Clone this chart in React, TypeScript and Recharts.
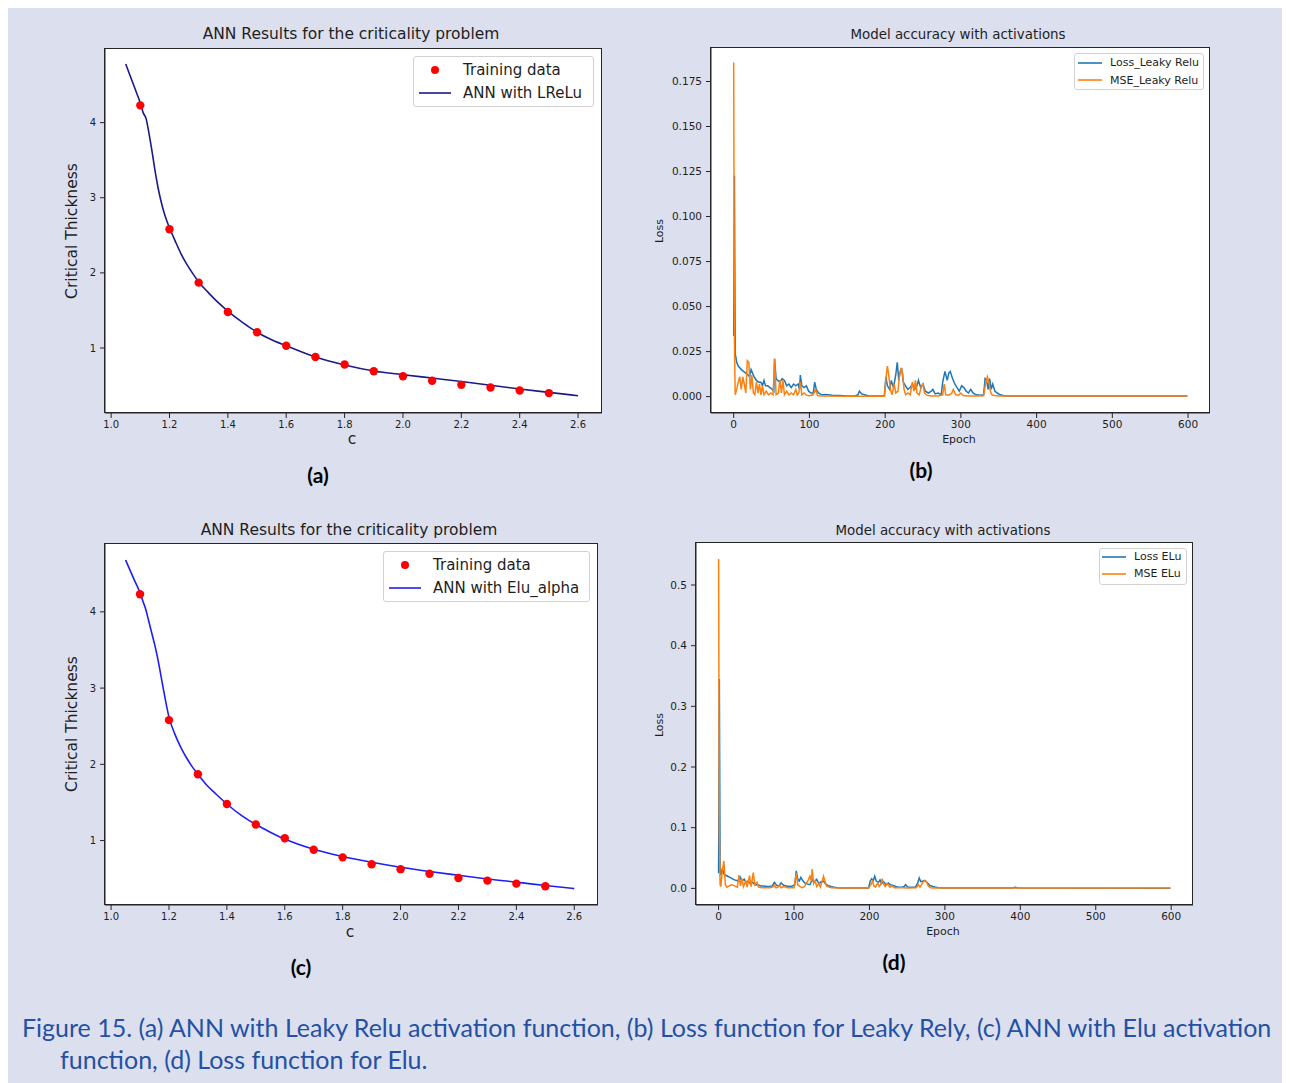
import React from 'react';
import { ComposedChart, LineChart, Line, Scatter, XAxis, YAxis, Legend } from 'recharts';

// ---------- data ----------
const trainingC = [1.1, 1.2, 1.3, 1.4, 1.5, 1.6, 1.7, 1.8, 1.9, 2.0, 2.1, 2.2, 2.3, 2.4, 2.5];
const trainingThickness = [4.23, 2.58, 1.87, 1.48, 1.21, 1.03, 0.88, 0.78, 0.69, 0.625, 0.565, 0.51, 0.475, 0.435, 0.40];

const curveC = [1.05, 1.08, 1.10, 1.11, 1.12, 1.13, 1.14, 1.15, 1.16, 1.17, 1.18, 1.19, 1.20, 1.22, 1.24, 1.26, 1.28, 1.30, 1.33, 1.36, 1.40, 1.45, 1.50, 1.55, 1.60, 1.70, 1.80, 1.90, 2.00, 2.10, 2.20, 2.30, 2.40, 2.50, 2.60];
const curveLReLu = [4.78, 4.47, 4.26, 4.13, 4.05, 3.85, 3.62, 3.37, 3.15, 2.97, 2.82, 2.70, 2.60, 2.42, 2.25, 2.11, 1.99, 1.88, 1.75, 1.63, 1.49, 1.34, 1.21, 1.11, 1.03, 0.88, 0.775, 0.695, 0.645, 0.60, 0.555, 0.505, 0.455, 0.41, 0.365];
const curveElu = [4.68, 4.42, 4.25, 4.14, 4.03, 3.88, 3.73, 3.58, 3.41, 3.21, 3.00, 2.80, 2.62, 2.40, 2.23, 2.09, 1.97, 1.87, 1.73, 1.62, 1.48, 1.33, 1.21, 1.11, 1.02, 0.885, 0.79, 0.715, 0.65, 0.595, 0.545, 0.495, 0.455, 0.41, 0.37];

const lossLeaky: [number, number][] = [[0,0.0337],[1,0.1226],[2,0.024],[4,0.019],[6,0.017],[8,0.016],[10,0.015],[13,0.014],[16,0.013],[19,0.012],[21,0.011],[23,0.015],[25,0.013],[27,0.011],[30,0.009],[33,0.008],[36,0.008],[38,0.006],[40,0.009],[42,0.006],[45,0.006],[48,0.005],[51,0.004],[53,0.003],[54,0.021],[56,0.01],[58,0.009],[61,0.008],[64,0.01],[67,0.009],[70,0.006],[73,0.007],[76,0.005],[79,0.007],[82,0.006],[85,0.007],[87,0.004],[88,0.012],[90,0.006],[93,0.005],[96,0.006],[99,0.003],[102,0.002],[105,0.002],[107,0.008],[109,0.004],[112,0.002],[116,0.001],[122,0.0012],[130,0.0008],[140,0.0006],[150,0.0004],[160,0.0004],[164,0.001],[166,0.003],[169,0.0015],[173,0.001],[178,0.0004],[190,0.0003],[199,0.0004],[201,0.011],[203,0.006],[206,0.004],[208,0.009],[211,0.005],[214,0.012],[216,0.019],[218,0.009],[220,0.014],[222,0.015],[224,0.008],[227,0.006],[230,0.004],[233,0.005],[236,0.007],[239,0.004],[242,0.006],[244,0.009],[247,0.005],[250,0.007],[253,0.003],[257,0.002],[261,0.003],[263,0.004],[266,0.0015],[270,0.002],[274,0.001],[276,0.008],[279,0.014],[282,0.009],[284,0.013],[286,0.014],[289,0.010],[292,0.007],[295,0.005],[298,0.003],[301,0.006],[304,0.005],[307,0.003],[310,0.002],[313,0.004],[316,0.002],[320,0.001],[326,0.0008],[330,0.001],[332,0.010],[334,0.009],[336,0.004],[338,0.010],[340,0.004],[342,0.007],[345,0.003],[348,0.002],[352,0.001],[358,0.0004],[365,0.0003],[599,0.0003]];
const mseLeaky: [number, number][] = [[0,0.1856],[1,0.03],[2,0.001],[4,0.004],[6,0.008],[8,0.011],[10,0.004],[12,0.011],[14,0.007],[16,0.002],[18,0.020],[20,0.019],[22,0.004],[24,0.012],[26,0.002],[28,0.001],[30,0.008],[32,0.002],[34,0.007],[36,0.001],[38,0.006],[40,0.001],[43,0.003],[46,0.001],[49,0.002],[52,0.001],[54,0.021],[56,0.001],[59,0.002],[61,0.009],[63,0.002],[65,0.009],[67,0.001],[70,0.003],[73,0.001],[76,0.002],[79,0.001],[82,0.004],[84,0.001],[86,0.002],[88,0.008],[90,0.001],[93,0.002],[96,0.0008],[100,0.0005],[105,0.001],[108,0.004],[111,0.0005],[120,0.0003],[150,0.0002],[199,0.0002],[201,0.01],[203,0.017],[205,0.011],[207,0.004],[209,0.001],[212,0.007],[214,0.002],[217,0.003],[219,0.012],[221,0.016],[223,0.013],[225,0.004],[227,0.001],[230,0.002],[233,0.001],[236,0.008],[238,0.003],[240,0.009],[242,0.002],[245,0.001],[248,0.006],[250,0.007],[252,0.002],[255,0.0008],[260,0.0004],[270,0.0004],[276,0.001],[278,0.007],[280,0.001],[284,0.0008],[288,0.002],[290,0.004],[293,0.001],[297,0.0008],[300,0.002],[303,0.0006],[310,0.0004],[320,0.0004],[330,0.0005],[333,0.008],[335,0.011],[337,0.008],[339,0.003],[341,0.001],[344,0.0006],[350,0.0003],[599,0.0003]];
const lossElu: [number, number][] = [[0,0.025],[1,0.345],[2,0.03],[3,0.022],[5,0.033],[7,0.024],[9,0.022],[12,0.02],[15,0.018],[18,0.016],[21,0.014],[24,0.013],[27,0.012],[29,0.018],[31,0.012],[34,0.015],[36,0.01],[39,0.012],[42,0.008],[45,0.01],[48,0.006],[52,0.006],[56,0.004],[60,0.004],[64,0.003],[68,0.003],[71,0.004],[74,0.01],[77,0.005],[80,0.004],[83,0.009],[86,0.005],[90,0.004],[94,0.003],[98,0.004],[101,0.006],[103,0.029],[105,0.015],[107,0.012],[109,0.018],[112,0.012],[115,0.008],[118,0.007],[121,0.006],[124,0.014],[127,0.01],[130,0.015],[133,0.008],[136,0.011],[139,0.012],[142,0.007],[145,0.005],[149,0.003],[153,0.002],[158,0.0012],[165,0.0008],[175,0.0006],[190,0.0005],[199,0.0006],[201,0.012],[203,0.016],[205,0.013],[207,0.02],[209,0.012],[212,0.01],[214,0.014],[216,0.008],[219,0.011],[222,0.006],[225,0.009],[228,0.006],[231,0.005],[235,0.003],[239,0.002],[243,0.002],[246,0.003],[248,0.006],[251,0.002],[256,0.002],[261,0.002],[264,0.009],[266,0.017],[268,0.011],[271,0.012],[274,0.013],[277,0.009],[280,0.005],[284,0.003],[288,0.002],[292,0.001],[298,0.0006],[310,0.0005],[390,0.0006],[393,0.0018],[396,0.001],[400,0.0006],[599,0.0004]];
const mseElu: [number, number][] = [[0,0.543],[1,0.09],[2,0.006],[3,0.003],[5,0.03],[7,0.045],[9,0.006],[11,0.002],[14,0.004],[17,0.006],[20,0.005],[23,0.003],[25,0.002],[27,0.022],[29,0.004],[31,0.016],[33,0.003],[36,0.012],[38,0.002],[41,0.021],[43,0.003],[46,0.026],[48,0.006],[51,0.01],[53,0.002],[57,0.001],[62,0.001],[68,0.001],[72,0.002],[74,0.005],[76,0.001],[79,0.002],[81,0.006],[83,0.001],[87,0.003],[91,0.001],[96,0.001],[100,0.001],[103,0.025],[105,0.006],[108,0.003],[111,0.001],[114,0.003],[116,0.008],[119,0.014],[121,0.02],[123,0.012],[124,0.032],[126,0.008],[128,0.013],[130,0.003],[133,0.008],[135,0.002],[137,0.01],[139,0.02],[141,0.012],[143,0.004],[146,0.002],[150,0.001],[160,0.0005],[199,0.0005],[202,0.006],[204,0.012],[206,0.004],[208,0.002],[211,0.009],[213,0.003],[215,0.006],[217,0.016],[219,0.006],[221,0.003],[224,0.008],[227,0.002],[230,0.004],[233,0.001],[237,0.001],[245,0.001],[250,0.0008],[262,0.001],[265,0.006],[267,0.002],[270,0.008],[273,0.013],[276,0.01],[278,0.004],[281,0.001],[286,0.0008],[300,0.0005],[398,0.0006],[401,0.0012],[404,0.0006],[599,0.0005]];

const cTicks = [1.0, 1.2, 1.4, 1.6, 1.8, 2.0, 2.2, 2.4, 2.6];
const thicknessTicks = [1, 2, 3, 4];
const epochTicks = [0, 100, 200, 300, 400, 500, 600];
const leakyLossTicks = [0, 0.025, 0.05, 0.075, 0.1, 0.125, 0.15, 0.175];
const eluLossTicks = [0, 0.1, 0.2, 0.3, 0.4, 0.5];

// ---------- derived tables ----------
const trainingData = trainingC.map((x, i) => ({ x, y: trainingThickness[i] }));
const lreluData = curveC.map((x, i) => ({ x, y: curveLReLu[i] }));
const eluData = curveC.map((x, i) => ({ x, y: curveElu[i] }));
const toRows = (p: [number, number][]) => p.map(([x, y]) => ({ x, y }));

// ---------- style ----------
const BG = '#dcdfee';
const AX = '#262626';
const TXT = '#1e1e1e';
const FONT = '"DejaVu Sans", sans-serif';
const BLUE = '#1f77b4';
const ORANGE = '#ff7f0e';
const CAPTION = '#2451a3';

type LegendItem = { label: string; color: string; kind: 'dot' | 'line' };
type LegendSpec = {
  items: LegendItem[]; fontSize: number; width: number; height: number;
  padLeft: number; handleW: number; gap: number; first: number; spacing: number; inset: number;
};

const LegendBox = ({ spec }: { spec: LegendSpec }) => (
  <div style={{ position: 'relative', width: spec.width, height: spec.height, boxSizing: 'border-box', border: '1px solid #d2d2d2', borderRadius: 3, background: 'rgba(255,255,255,0.85)', fontFamily: FONT, fontSize: spec.fontSize, color: TXT }}>
    {spec.items.map((it, i) => {
      const cy = spec.first + i * spec.spacing;
      return (
        <React.Fragment key={i}>
          <svg style={{ position: 'absolute', left: spec.padLeft, top: cy - 6 }} width={spec.handleW} height={12}>
            {it.kind === 'dot'
              ? <circle cx={spec.handleW / 2} cy={6} r={4} fill={it.color} />
              : <line x1={0} x2={spec.handleW} y1={6} y2={6} stroke={it.color} strokeWidth={1.6} />}
          </svg>
          <div style={{ position: 'absolute', left: spec.padLeft + spec.handleW + spec.gap, top: cy - spec.fontSize * 0.6, lineHeight: `${spec.fontSize * 1.2}px`, whiteSpace: 'nowrap' }}>{it.label}</div>
        </React.Fragment>
      );
    })}
  </div>
);

type Frame = { left: number; top: number; w: number; h: number; xDomain: [number, number]; yDomain: [number, number]; xTicks: number[]; yTicks: number[]; xFmt: (v: number) => string; yFmt: (v: number) => string; tickFs: number; legend: LegendSpec };

const YW = 60, XH = 30, MT = 10, MR = 10;

function frameParts(f: Frame) {
  return [
    <XAxis key="xb" type="number" dataKey="x" domain={f.xDomain} allowDataOverflow ticks={f.xTicks} interval={0} tickFormatter={f.xFmt} height={XH} tickSize={5} tickMargin={3} stroke={AX} tick={{ fill: TXT, fontSize: f.tickFs }} />,
    <YAxis key="yl" type="number" dataKey="y" domain={f.yDomain} allowDataOverflow ticks={f.yTicks} interval={0} tickFormatter={f.yFmt} width={YW} tickSize={5} tickMargin={4} stroke={AX} tick={{ fill: TXT, fontSize: f.tickFs }} />,
    <Legend key="lg" layout="horizontal" verticalAlign="middle" align="center"
      wrapperStyle={{ left: YW + f.w - f.legend.inset - f.legend.width, top: MT + f.legend.inset, width: f.legend.width, height: f.legend.height }}
      content={() => <LegendBox spec={f.legend} />} />,
  ];
}

// white plot face with a full box frame, drawn behind the transparent chart svg
const PlotFace = ({ f }: { f: Frame }) => (
  <div style={{ position: 'absolute', left: f.left, top: f.top, width: f.w + 1, height: f.h + 1, boxSizing: 'border-box', background: '#ffffff', border: `1px solid ${AX}` }} />
);

function chartBox(f: Frame) {
  return { position: 'absolute' as const, left: f.left - YW + 0.5, top: f.top - MT + 0.5 };
}

const fmt1 = (v: number) => v.toFixed(1);
const fmtInt = (v: number) => String(v);

const legendA: LegendSpec = { items: [{ label: 'Training data', color: '#ff0000', kind: 'dot' }, { label: 'ANN with LReLu', color: '#1a1a8c', kind: 'line' }], fontSize: 15, width: 181, height: 51, padLeft: 5, handleW: 32, gap: 12, first: 12.5, spacing: 23, inset: 7.5 };
const legendC: LegendSpec = { items: [{ label: 'Training data', color: '#ff0000', kind: 'dot' }, { label: 'ANN with Elu_alpha', color: '#1f1ff5', kind: 'line' }], fontSize: 15, width: 207, height: 51, padLeft: 5, handleW: 32, gap: 12, first: 12.5, spacing: 23, inset: 7.5 };
const legendB: LegendSpec = { items: [{ label: 'Loss_Leaky Relu', color: BLUE, kind: 'line' }, { label: 'MSE_Leaky Relu', color: ORANGE, kind: 'line' }], fontSize: 11, width: 130, height: 37, padLeft: 3, handleW: 24, gap: 8, first: 9, spacing: 17.3, inset: 5.5 };
const legendD: LegendSpec = { items: [{ label: 'Loss ELu', color: BLUE, kind: 'line' }, { label: 'MSE ELu', color: ORANGE, kind: 'line' }], fontSize: 11, width: 88, height: 37, padLeft: 1.5, handleW: 24, gap: 8.5, first: 8, spacing: 16.8, inset: 5.5 };

const frameA: Frame = { left: 96, top: 40, w: 497, h: 364, xDomain: [0.979, 2.682], yDomain: [0.135, 4.98], xTicks: cTicks, yTicks: thicknessTicks, xFmt: fmt1, yFmt: fmtInt, tickFs: 10, legend: legendA };
const frameC: Frame = { left: 96, top: 535, w: 493, h: 361, xDomain: [0.979, 2.682], yDomain: [0.155, 4.89], xTicks: cTicks, yTicks: thicknessTicks, xFmt: fmt1, yFmt: fmtInt, tickFs: 10, legend: legendC };
const frameB: Frame = { left: 702, top: 39, w: 499, h: 365, xDomain: [-29.95, 628.95], yDomain: [-0.0091, 0.1936], xTicks: epochTicks, yTicks: leakyLossTicks, xFmt: fmtInt, yFmt: (v) => v.toFixed(3), tickFs: 10.5, legend: legendB };
const frameD: Frame = { left: 687, top: 534, w: 497, h: 362, xDomain: [-29.95, 628.95], yDomain: [-0.0274, 0.5692], xTicks: epochTicks, yTicks: eluLossTicks, xFmt: fmtInt, yFmt: fmt1, tickFs: 10.5, legend: legendD };

const dotShape = (p: any) => <circle cx={p.cx} cy={p.cy} r={4.2} fill="#ff0000" />;

function CurvePanel({ f, data, color }: { f: Frame; data: { x: number; y: number }[]; color: string }) {
  return (
    <>
      <PlotFace f={f} />
      <div style={chartBox(f)}>
        <ComposedChart width={YW + f.w + MR} height={MT + f.h + XH} margin={{ top: MT, right: MR, bottom: 0, left: 0 }}>
          {frameParts(f)}
          <Scatter data={trainingData} dataKey="y" shape={dotShape} isAnimationActive={false} />
          <Line data={data} dataKey="y" type="monotone" stroke={color} strokeWidth={1.6} dot={false} activeDot={false} isAnimationActive={false} />
        </ComposedChart>
      </div>
    </>
  );
}

function LossPanel({ f, loss, mse }: { f: Frame; loss: [number, number][]; mse: [number, number][] }) {
  return (
    <>
      <PlotFace f={f} />
      <div style={chartBox(f)}>
        <LineChart width={YW + f.w + MR} height={MT + f.h + XH} margin={{ top: MT, right: MR, bottom: 0, left: 0 }}>
          {frameParts(f)}
          <Line data={toRows(loss)} dataKey="y" type="linear" stroke={BLUE} strokeWidth={1.5} dot={false} activeDot={false} isAnimationActive={false} />
          <Line data={toRows(mse)} dataKey="y" type="linear" stroke={ORANGE} strokeWidth={1.5} dot={false} activeDot={false} isAnimationActive={false} />
        </LineChart>
      </div>
    </>
  );
}

const Txt = ({ x, y, size, children, rotate, bold, family }: any) => (
  <div style={{ position: 'absolute', left: x, top: y, transform: `translate(-50%, -50%)${rotate ? ' rotate(-90deg)' : ''}`, fontSize: size, lineHeight: 1, whiteSpace: 'nowrap', color: bold ? '#000' : TXT, fontWeight: bold ? 700 : 400, fontFamily: family || FONT }}>{children}</div>
);

export default function App() {
  return (
    <div style={{ position: 'relative', width: 1282, height: 1075, background: BG, overflow: 'hidden', fontFamily: FONT }}>
      <CurvePanel f={frameA} data={lreluData} color="#1a1a8c" />
      <LossPanel f={frameB} loss={lossLeaky} mse={mseLeaky} />
      <CurvePanel f={frameC} data={eluData} color="#1f1ff5" />
      <LossPanel f={frameD} loss={lossElu} mse={mseElu} />

      <Txt x={343} y={27} size={15.5}>ANN Results for the criticality problem</Txt>
      <Txt x={65} y={223} size={15.5} rotate>Critical Thickness</Txt>
      <Txt x={344} y={432} size={15.5}>c</Txt>
      <Txt x={310} y={466} size={21} bold family="Lato, sans-serif">(a)</Txt>

      <Txt x={950} y={27} size={13.4}>Model accuracy with activations</Txt>
      <Txt x={651} y={223} size={11} rotate>Loss</Txt>
      <Txt x={951} y={431} size={11}>Epoch</Txt>
      <Txt x={913} y={461} size={21} bold family="Lato, sans-serif">(b)</Txt>

      <Txt x={341} y={523} size={15.5}>ANN Results for the criticality problem</Txt>
      <Txt x={65} y={716} size={15.5} rotate>Critical Thickness</Txt>
      <Txt x={342} y={925} size={15.5}>c</Txt>
      <Txt x={293} y={958} size={21} bold family="Lato, sans-serif">(c)</Txt>

      <Txt x={935} y={523} size={13.4}>Model accuracy with activations</Txt>
      <Txt x={651} y={717} size={11} rotate>Loss</Txt>
      <Txt x={935} y={923} size={11}>Epoch</Txt>
      <Txt x={886} y={953} size={21} bold family="Lato, sans-serif">(d)</Txt>

      <div style={{ position: 'absolute', left: 14, top: 1003, fontFamily: 'Lato, sans-serif', fontSize: 25, lineHeight: '32px', color: CAPTION, whiteSpace: 'nowrap' }}>
        Figure 15. (a) ANN with Leaky Relu activation function, (b) Loss function for Leaky Rely, (c) ANN with Elu activation
      </div>
      <div style={{ position: 'absolute', left: 52, top: 1035, fontFamily: 'Lato, sans-serif', fontSize: 25, lineHeight: '32px', color: CAPTION, whiteSpace: 'nowrap' }}>
        function, (d) Loss function for Elu.
      </div>
    </div>
  );
}
